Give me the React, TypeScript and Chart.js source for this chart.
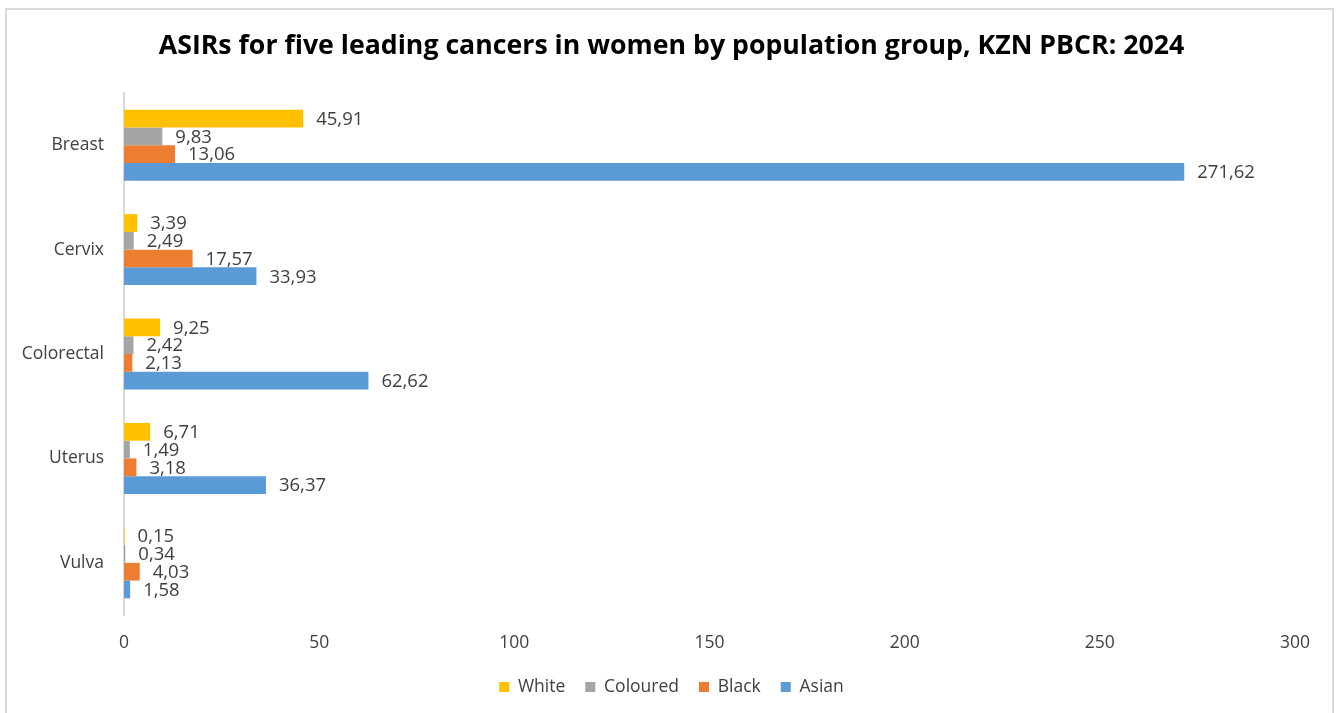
import React, { useEffect, useRef } from "react";
import { Chart, registerables } from "chart.js";

Chart.register(...registerables);

const chartTitle =
  "ASIRs for five leading cancers in women by population group, KZN PBCR: 2024";
const categories = ["Breast", "Cervix", "Colorectal", "Uterus", "Vulva"];
const seriesNames = ["White", "Coloured", "Black", "Asian"];
const whiteValues = [45.91, 3.39, 9.25, 6.71, 0.15];
const colouredValues = [9.83, 2.49, 2.42, 1.49, 0.34];
const blackValues = [13.06, 17.57, 2.13, 3.18, 4.03];
const asianValues = [271.62, 33.93, 62.62, 36.37, 1.58];
const seriesColors = ["#FFC000", "#A5A5A5", "#ED7D31", "#5B9BD5"];
const xMin = 0;
const xMax = 300;
const xStep = 50;

const FONT = "'Open Sans', 'Noto Sans', sans-serif";
const TEXT = "#404040";

const valueLabelPlugin = {
  id: "valueLabels",
  afterDatasetsDraw(chart: any) {
    const ctx = chart.ctx;
    ctx.save();
    ctx.font = `18.5px ${FONT}`;
    ctx.fillStyle = TEXT;
    ctx.textAlign = "left";
    ctx.textBaseline = "middle";
    chart.data.datasets.forEach((ds: any, i: number) => {
      const meta = chart.getDatasetMeta(i);
      meta.data.forEach((bar: any, j: number) => {
        const v = ds.data[j] as number;
        ctx.fillText(v.toFixed(2).replace(".", ","), bar.x + 13, bar.y + 1);
      });
    });
    ctx.restore();
  },
};

export default function App() {
  const canvasRef = useRef<HTMLCanvasElement | null>(null);

  useEffect(() => {
    if (!canvasRef.current) return;
    const valueSets = [whiteValues, colouredValues, blackValues, asianValues];
    const chart = new Chart(canvasRef.current, {
      type: "bar",
      data: {
        labels: categories,
        datasets: seriesNames.map((name, i) => ({
          label: name,
          data: valueSets[i],
          backgroundColor: seriesColors[i],
          borderWidth: 0,
          categoryPercentage: 0.68,
          barPercentage: 1.0,
        })),
      },
      options: {
        indexAxis: "y",
        animation: false,
        responsive: false,
        devicePixelRatio: 1,
        layout: { padding: { left: 4, right: 0, top: 0, bottom: 7.25 } },
        plugins: {
          title: {
            display: true,
            text: chartTitle,
            color: "#000000",
            font: { family: FONT, size: 26.7, weight: "bold", lineHeight: 1.2 },
            padding: { top: 30, bottom: 31 },
          },
          legend: {
            display: true,
            position: "bottom",
            labels: {
              boxWidth: 10,
              boxHeight: 10,
              padding: 20,
              color: TEXT,
              font: { family: FONT, size: 17.5 },
            },
          },
          tooltip: { enabled: false },
        },
        scales: {
          x: {
            type: "linear",
            min: xMin,
            max: xMax,
            grid: { display: false, drawTicks: false },
            border: { display: false },
            ticks: {
              stepSize: xStep,
              color: TEXT,
              padding: 18,
              font: { family: FONT, size: 17.5 },
            },
            afterFit: (scale: any) => {
              scale.height = 43.25;
            },
          },
          y: {
            type: "category",
            grid: { display: false, drawTicks: false },
            border: { display: true, color: "#D9D9D9", width: 2 },
            ticks: {
              color: TEXT,
              padding: 20,
              font: { family: FONT, size: 17.5 },
            },
            afterFit: (scale: any) => {
              scale.width = 120;
            },
          },
          yRight: {
            type: "category",
            position: "right",
            display: true,
            grid: { display: false, drawTicks: false },
            border: { display: false },
            ticks: { display: false },
            afterFit: (scale: any) => {
              scale.width = 44;
            },
          },
        },
      },
      plugins: [valueLabelPlugin],
    } as any);
    return () => chart.destroy();
  }, []);

  return (
    <div
      style={{
        position: "fixed",
        left: 0,
        top: 0,
        width: 1339,
        height: 713,
        background: "#ffffff",
        overflow: "hidden",
      }}
    >
      <div
        style={{
          position: "absolute",
          left: 5,
          top: 8,
          width: 1329,
          height: 720,
          boxSizing: "border-box",
          border: "2px solid #D9D9D9",
        }}
      />
      <canvas
        ref={canvasRef}
        width={1339}
        height={713}
        style={{ position: "absolute", left: 0, top: 0, display: "block" }}
      />
    </div>
  );
}
